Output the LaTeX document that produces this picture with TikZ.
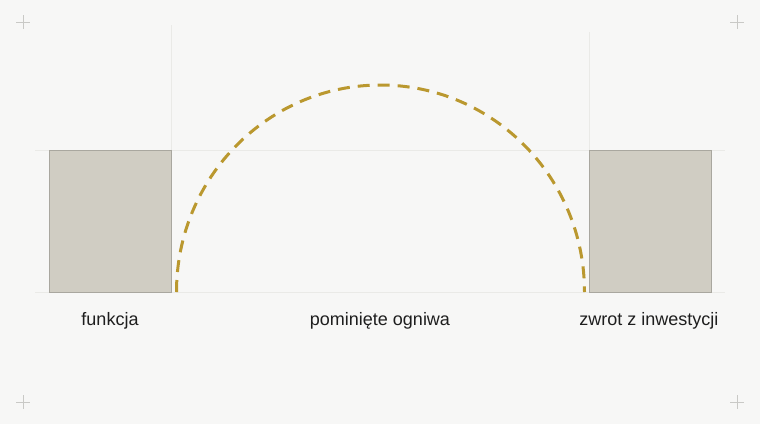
\documentclass[tikz,border=0pt]{standalone}
\usepackage{fontspec}
\setmainfont{Liberation Sans}
\definecolor{bg}{HTML}{F7F7F6}
\definecolor{boxfill}{HTML}{D0CDC3}
\definecolor{boxline}{HTML}{A9A79F}
\definecolor{gold}{HTML}{BA982F}
\definecolor{guide}{HTML}{EAEAE7}
\definecolor{cross}{HTML}{C9C9C6}
\definecolor{txt}{HTML}{1E1E1E}
\begin{document}
\begin{tikzpicture}[x=1pt,y=-1pt,
  blockbox/.style={draw=boxline,line width=0.9pt,fill=boxfill,minimum width=122pt,minimum height=142pt,inner sep=0pt,anchor=north west},
  guideline/.style={draw=guide,line width=0.8pt},
  crossmark/.style={draw=cross,line width=0.7pt},
  lbl/.style={text=txt,font=\fontsize{18}{21}\selectfont,anchor=base},
  skiparc/.style={draw=gold,line width=3pt,dash pattern=on 12pt off 8pt}]
\fill[bg] (0,0) rectangle (760,424);
\useasboundingbox (0,0) rectangle (760,424);
% guides
\draw[guideline] (35,150) -- (725,150);
\draw[guideline] (35,292) -- (725,292);
\draw[guideline] (171,25) -- (171,292);
\draw[guideline] (589,32) -- (589,292);
% corner crosses
\foreach \cx/\cy in {23/22,737/22,23/402,737/402}{
  \draw[crossmark] (\cx-7,\cy) -- (\cx+7,\cy) (\cx,\cy-7) -- (\cx,\cy+7);
}
% boxes
\node[blockbox] (a) at (49,150) {};
\node[blockbox] (b) at (589,150) {};
% arc
\coordinate (s) at (176.5,292);
\draw[skiparc] (s) arc[start angle=180,end angle=0,x radius=204,y radius=-207];
% labels
\node[lbl] (la) at (110,325) {funkcja};
\node[lbl] (lm) at (380,325) {pominięte ogniwa};
\node[lbl] (lb) at (649,325) {zwrot z inwestycji};
\end{tikzpicture}
\end{document}
